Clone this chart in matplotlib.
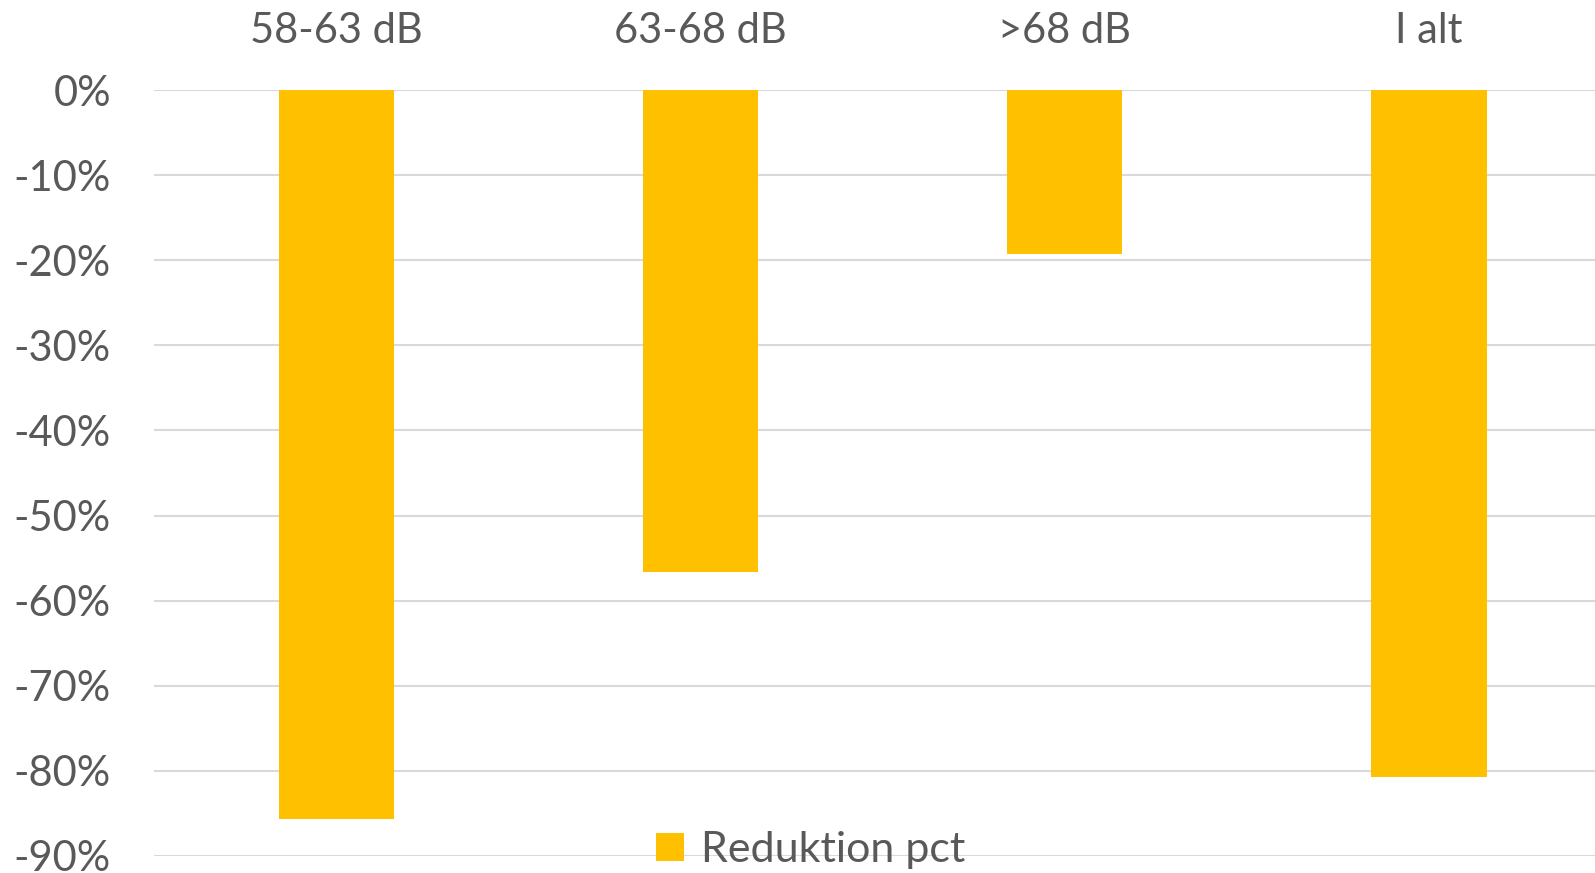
import matplotlib.pyplot as plt
from matplotlib.ticker import FuncFormatter

categories = ['58-63 dB', '63-68 dB', '>68 dB', 'I alt']
reduktion = [-0.857, -0.566, -0.193, -0.807]
yticks = [0, -0.1, -0.2, -0.3, -0.4, -0.5, -0.6, -0.7, -0.8, -0.9]

plt.rcParams['font.family'] = ['Lato', 'DejaVu Sans']
text_col = '#595959'

fig = plt.figure(figsize=(15.95, 8.73), dpi=100)
ax = fig.add_axes([0.0966, 0.0195, 0.9135, 0.8774])

x = range(len(categories))
ax.bar(x, reduktion, width=0.316, color='#FFC000', label='Reduktion pct', zorder=3)

ax.set_xlim(-0.5, len(categories) - 0.5)
ax.set_ylim(-0.9, 0)
ax.set_yticks(yticks)
ax.yaxis.set_major_formatter(FuncFormatter(lambda v, p: '%d%%' % round(v * 100)))
ax.grid(axis='y', color='#d9d9d9', linewidth=1.5, zorder=0)

ax.xaxis.tick_top()
ax.set_xticks(list(x))
ax.set_xticklabels(categories)
ax.tick_params(axis='x', length=0, pad=29, labelsize=30, labelcolor=text_col)
ax.tick_params(axis='y', length=0, pad=31, labelsize=30, labelcolor=text_col)
for s in ax.spines.values():
    s.set_visible(False)

fig.legend(loc='center', bbox_to_anchor=(811 / 1595, 1 - 850 / 873), frameon=False,
           fontsize=31, labelcolor=text_col, handlelength=0.65, handleheight=0.65,
           handletextpad=0.4)

fig.savefig('out.png', dpi=100)
